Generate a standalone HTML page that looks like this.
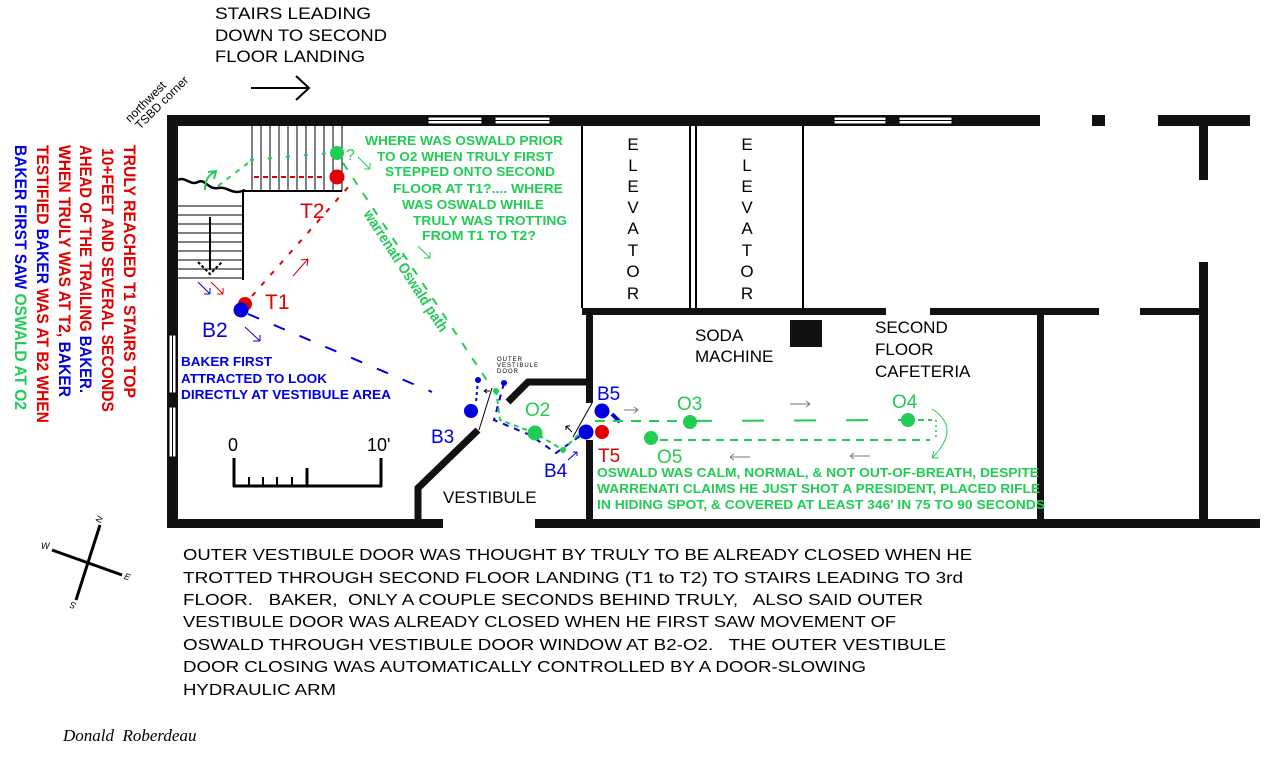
<!DOCTYPE html>
<html><head><meta charset="utf-8"><style>
html,body{margin:0;padding:0;background:#fff;}
svg{display:block}
text{font-family:"Liberation Sans",Arial,sans-serif;}
.b{font-weight:bold}
</style></head><body>
<svg width="1267" height="765" viewBox="0 0 1267 765" xmlns="http://www.w3.org/2000/svg">
<rect width="1267" height="765" fill="#fff"/>

<g font-size="17" fill="#000">
<text x="215" y="19" textLength="156" lengthAdjust="spacingAndGlyphs">STAIRS LEADING</text>
<text x="215" y="41" textLength="172" lengthAdjust="spacingAndGlyphs">DOWN TO SECOND</text>
<text x="215" y="62" textLength="150" lengthAdjust="spacingAndGlyphs">FLOOR LANDING</text>
</g>
<line x1="251" y1="88" x2="308" y2="88" stroke="#000" stroke-width="2"/>
<polyline points="296,76 309,88 296,100" fill="none" stroke="#000" stroke-width="2"/>

<text transform="translate(130,123) rotate(-45)" font-size="12">northwest</text>
<text transform="translate(140,130) rotate(-45)" font-size="12">TSBD corner</text>

<g class="b" font-size="17">
<text transform="translate(124,145) rotate(90)" fill="#e00000" textLength="253" lengthAdjust="spacingAndGlyphs">TRULY REACHED T1 STAIRS TOP</text>
<text transform="translate(102,148) rotate(90)" fill="#e00000" textLength="264" lengthAdjust="spacingAndGlyphs">10+FEET AND SEVERAL SECONDS</text>
<text transform="translate(80,145) rotate(90)" fill="#e00000" textLength="248" lengthAdjust="spacingAndGlyphs">AHEAD OF THE TRAILING <tspan fill="#0000e0">BAKER.</tspan></text>
<text transform="translate(59,145) rotate(90)" fill="#e00000" textLength="252" lengthAdjust="spacingAndGlyphs">WHEN TRULY WAS AT T2, <tspan fill="#0000e0">BAKER</tspan></text>
<text transform="translate(37,145) rotate(90)" fill="#e00000" textLength="278" lengthAdjust="spacingAndGlyphs">TESTIFIED <tspan fill="#0000e0">BAKER</tspan> WAS AT B2 WHEN</text>
<text transform="translate(15,145) rotate(90)" fill="#0000e0" textLength="265" lengthAdjust="spacingAndGlyphs">BAKER FIRST SAW <tspan fill="#22cc55">OSWALD AT O2</tspan></text>
</g>

<g stroke="#000" stroke-width="3">
<line x1="100" y1="525" x2="76" y2="600"/>
<line x1="52" y1="550" x2="122" y2="575"/>
</g>
<g font-size="9" font-style="italic">
<text x="97" y="522" transform="rotate(-70 100 520)">N</text>
<text x="41" y="549">W</text>
<text x="124" y="580" transform="rotate(20 128 578)">E</text>
<text x="68" y="608" transform="rotate(200 72 605)">S</text>
</g>

<g fill="#111">
<rect x="167" y="115" width="873" height="11"/>
<rect x="1092" y="115" width="13" height="11"/>
<rect x="1158" y="115" width="92" height="11"/>
<rect x="1199" y="115" width="9" height="65"/>
<rect x="1199" y="262" width="9" height="266"/>
<rect x="167" y="115" width="11" height="413"/>
<rect x="167" y="519" width="276" height="9"/>
<rect x="535" y="519" width="725" height="9"/>
<rect x="582" y="308" width="304" height="7"/>
<rect x="930" y="308" width="169" height="7"/>
<rect x="1140" y="308" width="68" height="7"/>
<rect x="1037" y="308" width="7" height="214"/>
<rect x="586" y="308" width="7" height="95"/>
<rect x="586" y="440" width="7" height="82"/>
<rect x="790" y="320" width="32" height="27"/>
</g>
<g fill="#fff" stroke="#000" stroke-width="1">
<rect x="428" y="117" width="54" height="7"/>
<rect x="495" y="117" width="55" height="7"/>
<rect x="834" y="117" width="52" height="7"/>
<rect x="899" y="117" width="53" height="7"/>
<rect x="169" y="335" width="7" height="58"/>
<rect x="169" y="407" width="7" height="50"/>
</g>
<line x1="428" y1="120.5" x2="482" y2="120.5" stroke="#000"/>
<line x1="495" y1="120.5" x2="550" y2="120.5" stroke="#000"/>
<line x1="834" y1="120.5" x2="886" y2="120.5" stroke="#000"/>
<line x1="899" y1="120.5" x2="952" y2="120.5" stroke="#000"/>
<line x1="172.5" y1="335" x2="172.5" y2="393" stroke="#000"/>
<line x1="172.5" y1="407" x2="172.5" y2="457" stroke="#000"/>

<g fill="none" stroke="#000" stroke-width="2">
<line x1="582" y1="126" x2="582" y2="308"/>
<line x1="690" y1="126" x2="690" y2="308"/>
<line x1="696" y1="126" x2="696" y2="308"/>
<line x1="803" y1="126" x2="803" y2="308"/>
</g>
<g font-size="17" text-anchor="middle">
<text x="633" y="150">E</text><text x="633" y="171">L</text><text x="633" y="192">E</text><text x="633" y="213">V</text><text x="633" y="234">A</text><text x="633" y="256">T</text><text x="633" y="277">O</text><text x="633" y="299">R</text>
<text x="747" y="150">E</text><text x="747" y="171">L</text><text x="747" y="192">E</text><text x="747" y="213">V</text><text x="747" y="234">A</text><text x="747" y="256">T</text><text x="747" y="277">O</text><text x="747" y="299">R</text>
</g>
<g font-size="17">
<text x="695" y="341">SODA</text>
<text x="695" y="362">MACHINE</text>
<text x="875" y="333">SECOND</text>
<text x="875" y="355">FLOOR</text>
<text x="875" y="377">CAFETERIA</text>
</g>

<g stroke="#000" stroke-width="1">
<line x1="252" y1="126" x2="252" y2="191"/><line x1="261" y1="126" x2="261" y2="191"/><line x1="270" y1="126" x2="270" y2="191"/><line x1="279" y1="126" x2="279" y2="191"/><line x1="288" y1="126" x2="288" y2="191"/><line x1="297" y1="126" x2="297" y2="191"/><line x1="306" y1="126" x2="306" y2="191"/><line x1="315" y1="126" x2="315" y2="191"/><line x1="324" y1="126" x2="324" y2="191"/><line x1="333" y1="126" x2="333" y2="191"/><line x1="342" y1="126" x2="342" y2="191"/>
<line x1="178" y1="206" x2="243" y2="206"/><line x1="178" y1="215" x2="243" y2="215"/><line x1="178" y1="224" x2="243" y2="224"/><line x1="178" y1="233" x2="243" y2="233"/><line x1="178" y1="242" x2="243" y2="242"/><line x1="178" y1="251" x2="243" y2="251"/><line x1="178" y1="260" x2="243" y2="260"/><line x1="178" y1="269" x2="243" y2="269"/><line x1="178" y1="278" x2="243" y2="278"/>
</g>
<polyline points="243,280 243,191 342,191" fill="none" stroke="#000" stroke-width="2"/>
<path d="M178,180 C185,176 190,186 198,182 C205,178 208,190 218,188 C228,186 232,196 245,190" fill="none" stroke="#000" stroke-width="2.5"/>
<line x1="210" y1="217" x2="210" y2="270" stroke="#000" stroke-width="2"/>
<polyline points="198,262 210,274 222,262" fill="none" stroke="#000" stroke-width="2" stroke-dasharray="3,2"/>
<path d="M198,282 l12,12 m0,0 l-6,0 m6,0 l0,-6" stroke="#0000e0" fill="none"/>
<path d="M211,282 l12,12 m0,0 l-6,0 m6,0 l0,-6" stroke="#e00000" fill="none"/>

<line x1="250" y1="160" x2="330" y2="153" stroke="#22cc55" stroke-width="2" stroke-dasharray="4,14"/>
<line x1="218" y1="186" x2="248" y2="163" stroke="#22cc55" stroke-width="2" stroke-dasharray="5,6"/>
<path d="M205,190 Q205,176 215,172 M208,172 L216,171 L214,179" fill="none" stroke="#22cc55" stroke-width="2"/>
<line x1="254" y1="177" x2="326" y2="177" stroke="#e00000" stroke-width="2" stroke-dasharray="5,4"/>

<line x1="252" y1="296" x2="350" y2="185" stroke="#e00000" stroke-width="2" stroke-dasharray="5,9"/>
<path d="M293,276 l15,-17 m0,0 l-7,1 m7,-1 l-1,7" stroke="#e00000" fill="none"/>
<line x1="248" y1="314" x2="432" y2="392" stroke="#0000e0" stroke-width="2" stroke-dasharray="12,16"/>
<path d="M245,327 l15,14 m0,0 l-7,0 m7,0 l0,-6" stroke="#0000e0" fill="none"/>
<line x1="343" y1="163" x2="492" y2="388" stroke="#22cc55" stroke-width="2" stroke-dasharray="8,10"/>
<path d="M358,157 l12,12 m0,0 l-6,0 m6,0 l0,-6" stroke="#22cc55" fill="none"/>
<path d="M418,246 l12,12 m0,0 l-6,0 m6,0 l0,-6" stroke="#22cc55" fill="none"/>
<text transform="translate(363,214) rotate(57)" class="b" font-size="15" fill="#22cc55" textLength="142" lengthAdjust="spacingAndGlyphs">warrenati Oswald path</text>

<g class="b" font-size="13" fill="#22cc55">
<text x="365" y="145" textLength="198" lengthAdjust="spacingAndGlyphs">WHERE WAS OSWALD PRIOR</text>
<text x="377" y="161" textLength="176" lengthAdjust="spacingAndGlyphs">TO O2 WHEN TRULY FIRST</text>
<text x="385" y="176" textLength="170" lengthAdjust="spacingAndGlyphs">STEPPED ONTO SECOND</text>
<text x="393" y="193" textLength="170" lengthAdjust="spacingAndGlyphs">FLOOR AT T1?.... WHERE</text>
<text x="402" y="209" textLength="142" lengthAdjust="spacingAndGlyphs">WAS OSWALD WHILE</text>
<text x="413" y="225" textLength="154" lengthAdjust="spacingAndGlyphs">TRULY WAS TROTTING</text>
<text x="422" y="240" textLength="114" lengthAdjust="spacingAndGlyphs">FROM T1 TO T2?</text>
</g>

<circle cx="337" cy="153" r="7" fill="#22cc55"/>
<text x="346" y="160" font-size="16" fill="#22cc55">?</text>
<circle cx="337" cy="177" r="7.5" fill="#e00000"/>
<text x="300" y="218" font-size="21" fill="#e00000">T2</text>
<circle cx="245" cy="304" r="7" fill="#e00000"/>
<circle cx="241" cy="310" r="7.5" fill="#0000e0"/>
<text x="265" y="309" font-size="21" fill="#e00000">T1</text>
<text x="202" y="337" font-size="21" fill="#0000e0">B2</text>

<g class="b" font-size="13" fill="#0000e0">
<text x="181" y="366" textLength="91" lengthAdjust="spacingAndGlyphs">BAKER FIRST</text>
<text x="181" y="383" textLength="146" lengthAdjust="spacingAndGlyphs">ATTRACTED TO LOOK</text>
<text x="181" y="399" textLength="210" lengthAdjust="spacingAndGlyphs">DIRECTLY AT VESTIBULE AREA</text>
</g>

<text x="228" y="451" font-size="18">0</text>
<text x="367" y="451" font-size="18">10'</text>
<g stroke="#000" stroke-width="3">
<line x1="234" y1="458" x2="234" y2="487"/>
<line x1="381" y1="458" x2="381" y2="487"/>
<line x1="233" y1="486" x2="382" y2="486"/>
<line x1="307" y1="468" x2="307" y2="486"/>
</g>
<g stroke="#000" stroke-width="2">
<line x1="249" y1="477" x2="249" y2="486"/><line x1="263" y1="477" x2="263" y2="486"/><line x1="277" y1="477" x2="277" y2="486"/><line x1="292" y1="477" x2="292" y2="486"/>
</g>

<polyline points="508,402 528,382 591,382" fill="none" stroke="#111" stroke-width="7"/>
<polyline points="478,430 418,488 418,527" fill="none" stroke="#111" stroke-width="7"/>
<text x="443" y="503" font-size="17">VESTIBULE</text>
<g font-size="6" letter-spacing="1">
<text x="497" y="361">OUTER</text>
<text x="497" y="367">VESTIBULE</text>
<text x="497" y="373">DOOR</text>
</g>
<line x1="479" y1="430" x2="492" y2="388" stroke="#000"/>
<line x1="573" y1="437" x2="592" y2="403" stroke="#000"/>

<polyline points="478,380 476,402" fill="none" stroke="#0000e0" stroke-width="2" stroke-dasharray="3,3"/>
<polyline points="504,383 494,420 530,435 556,453 580,436" fill="none" stroke="#0000e0" stroke-width="2" stroke-dasharray="6,6"/>
<polyline points="496,390 500,420 535,433 563,450 585,428" fill="none" stroke="#22cc55" stroke-width="2" stroke-dasharray="5,4"/>
<circle cx="478" cy="380" r="3" fill="#0000e0"/>
<circle cx="504" cy="383" r="3" fill="#0000e0"/>
<circle cx="496" cy="391" r="3" fill="#22cc55"/>
<circle cx="563" cy="450" r="3" fill="#22cc55"/>
<path d="M490,391 l-6,0 m0,0 l3,-2 m-3,2 l3,2" stroke="#000" fill="none"/>
<path d="M572,432 l-6,-6 m0,0 l0,4 m0,-4 l4,0" stroke="#000" fill="none"/>
<path d="M568,460 l9,-8 m0,0 l-4,0 m4,0 l0,4" stroke="#0000e0" fill="none"/>
<circle cx="471" cy="411" r="7" fill="#0000e0"/>
<text x="431" y="443" font-size="19" fill="#0000e0">B3</text>
<circle cx="535" cy="433" r="7.5" fill="#22cc55"/>
<text x="525" y="416" font-size="19" fill="#22cc55">O2</text>
<circle cx="586" cy="432" r="7.5" fill="#0000e0"/>
<circle cx="602" cy="432" r="7" fill="#e00000"/>
<circle cx="602" cy="411" r="7.5" fill="#0000e0"/>
<text x="544" y="477" font-size="19" fill="#0000e0">B4</text>
<text x="597" y="400" font-size="19" fill="#0000e0">B5</text>
<text x="598" y="462" font-size="19" fill="#e00000">T5</text>
<path d="M612,414 l8,8" stroke="#0000e0" stroke-width="4"/>

<line x1="595" y1="421" x2="690" y2="421" stroke="#22cc55" stroke-width="2" stroke-dasharray="10,8"/>
<line x1="690" y1="421" x2="908" y2="420" stroke="#22cc55" stroke-width="2" stroke-dasharray="22,30"/>
<line x1="908" y1="420" x2="932" y2="420" stroke="#22cc55" stroke-width="2" stroke-dasharray="6,4"/>
<line x1="660" y1="440" x2="930" y2="440" stroke="#22cc55" stroke-width="2" stroke-dasharray="8,6"/>
<path d="M936,420 l0,18" stroke="#22cc55" stroke-width="1.5" stroke-dasharray="2,3"/>
<path d="M932,409 Q962,428 932,458 m0,0 l2,-7 m-2,7 l7,0" stroke="#22cc55" fill="none"/>
<circle cx="690" cy="422" r="7" fill="#22cc55"/>
<circle cx="908" cy="420" r="7" fill="#22cc55"/>
<circle cx="651" cy="438" r="7" fill="#22cc55"/>
<text x="677" y="410" font-size="19" fill="#22cc55">O3</text>
<text x="892" y="408" font-size="19" fill="#22cc55">O4</text>
<text x="657" y="463" font-size="19" fill="#22cc55">O5</text>
<g stroke="#777" fill="none">
<path d="M624,410 h14 m0,0 l-4,-3 m4,3 l-4,3"/>
<path d="M790,404 h20 m0,0 l-4,-3 m4,3 l-4,3"/>
<path d="M730,457 h20 m-20,0 l4,-3 m-4,3 l4,3"/>
<path d="M850,456 h20 m-20,0 l4,-3 m-4,3 l4,3"/>
</g>

<g class="b" font-size="13" fill="#22cc55">
<text x="597" y="477" textLength="442" lengthAdjust="spacingAndGlyphs">OSWALD WAS CALM, NORMAL, &amp; NOT OUT-OF-BREATH, DESPITE</text>
<text x="597" y="493" textLength="443" lengthAdjust="spacingAndGlyphs">WARRENATI CLAIMS HE JUST SHOT A PRESIDENT, PLACED RIFLE</text>
<text x="597" y="509" textLength="448" lengthAdjust="spacingAndGlyphs">IN HIDING SPOT, &amp; COVERED AT LEAST 346' IN 75 TO 90 SECONDS</text>
</g>

<g font-size="16" fill="#000">
<text x="183" y="560" textLength="789" lengthAdjust="spacingAndGlyphs">OUTER VESTIBULE DOOR WAS THOUGHT BY TRULY TO BE ALREADY CLOSED WHEN HE</text>
<text x="183" y="583" textLength="780" lengthAdjust="spacingAndGlyphs">TROTTED THROUGH SECOND FLOOR LANDING (T1 to T2) TO STAIRS LEADING TO 3rd</text>
<text x="183" y="605" textLength="740" lengthAdjust="spacingAndGlyphs" xml:space="preserve">FLOOR.   BAKER,  ONLY A COUPLE SECONDS BEHIND TRULY,   ALSO SAID OUTER</text>
<text x="183" y="627" textLength="713" lengthAdjust="spacingAndGlyphs">VESTIBULE DOOR WAS ALREADY CLOSED WHEN HE FIRST SAW MOVEMENT OF</text>
<text x="183" y="650" textLength="763" lengthAdjust="spacingAndGlyphs" xml:space="preserve">OSWALD THROUGH VESTIBULE DOOR WINDOW AT B2-O2.   THE OUTER VESTIBULE</text>
<text x="183" y="672" textLength="683" lengthAdjust="spacingAndGlyphs">DOOR CLOSING WAS AUTOMATICALLY CONTROLLED BY A DOOR-SLOWING</text>
<text x="183" y="695" textLength="153" lengthAdjust="spacingAndGlyphs">HYDRAULIC ARM</text>
</g>
<text x="63" y="741" style="font-family:'Liberation Serif',serif;font-style:italic;font-size:17px" xml:space="preserve">Donald  Roberdeau</text>
</svg>
</body></html>
